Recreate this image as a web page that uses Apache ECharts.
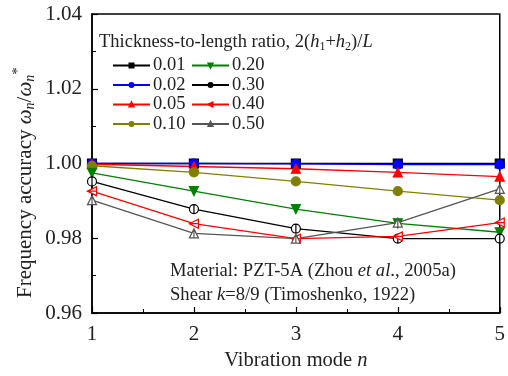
<!DOCTYPE html>
<html>
<head>
<meta charset="utf-8">
<script src="https://cdn.jsdelivr.net/npm/echarts@6/dist/echarts.min.js"></script>
<style>
  html, body { margin: 0; padding: 0; background: #fff; }
  #chart { width: 508px; height: 376px; }
</style>
</head>
<body>
<div id="chart"></div>
<script>
// vibration modes on the x axis
const modes = [1, 2, 3, 4, 5];
// thickness-to-length ratios
const ratios = ['0.01', '0.02', '0.05', '0.10', '0.20', '0.30', '0.40', '0.50'];
// frequency accuracy for each ratio
const acc001 = [1.0000, 1.0000, 1.0000, 1.0000, 1.0000];
const acc002 = [1.0000, 1.0000, 0.9999, 0.9997, 0.9997];
const acc005 = [0.9998, 0.9992, 0.9986, 0.9976, 0.9965];
const acc010 = [0.9994, 0.9976, 0.9952, 0.9926, 0.9902];
const acc020 = [0.9975, 0.9926, 0.9878, 0.9840, 0.9816];
const acc030 = [0.9952, 0.9878, 0.9826, 0.9799, 0.9799];
const acc040 = [0.9926, 0.9839, 0.9799, 0.9805, 0.9842];
const acc050 = [0.9902, 0.9813, 0.9799, 0.9842, 0.9932];
const yTicks = [0.96, 0.98, 1.00, 1.02, 1.04];

const FONT = '"Liberation Serif", "DejaVu Serif", serif';
const allData = [acc001, acc002, acc005, acc010, acc020, acc030, acc040, acc050];

// marker styles per series
const styles = [
  { color: '#000000', symbol: 'rect', fill: '#000000' },
  { color: '#0000ff', symbol: 'circle', fill: '#0000ff' },
  { color: '#ff0000', symbol: 'triangle', fill: '#ff0000' },
  { color: '#808000', symbol: 'circle', fill: '#808000' },
  { color: '#008000', symbol: 'path://M0,0L10,0L5,9Z', fill: '#008000' },
  { color: '#000000', symbol: 'path://M5,0A5,5 0 1,1 5,10A5,5 0 1,1 5,0M5,0L5,10', fill: '#ffffff' },
  { color: '#ff0000', symbol: 'path://M0,5L9,0L9,10Z M0,5L9,5', fill: '#ffffff' },
  { color: '#555555', symbol: 'path://M5,0L10,9L0,9Z M5,0L5,9', fill: '#ffffff' }
];

const chart = echarts.init(document.getElementById('chart'));

const series = ratios.map((r, i) => ({
  name: r,
  type: 'line',
  data: modes.map((m, j) => [m, allData[i][j]]),
  symbol: styles[i].symbol,
  symbolSize: 9,
  showAllSymbol: true,
  lineStyle: { color: styles[i].color, width: 1.3 },
  itemStyle: { color: styles[i].fill, borderColor: styles[i].color, borderWidth: 1.2 },
  emphasis: { disabled: true }
}));

const legendText = { fontFamily: FONT, fontSize: 18.5, color: '#222', padding: [0, 0, 0, -2] };

const option = {
  animation: false,
  backgroundColor: '#fff',
  grid: {
    left: 92, right: 8, top: 14, bottom: 58,
    show: true, borderColor: '#000', borderWidth: 1.5
  },
  legend: [
    {
      data: ratios.slice(0, 4),
      orient: 'vertical',
      left: 107, top: 51,
      itemWidth: 37, itemHeight: 5, itemGap: 0.5,
      textStyle: legendText,
      selectedMode: false
    },
    {
      data: ratios.slice(4),
      orient: 'vertical',
      left: 186, top: 51,
      itemWidth: 37, itemHeight: 5, itemGap: 0.5,
      textStyle: legendText,
      selectedMode: false
    }
  ],
  xAxis: {
    type: 'value',
    min: 1, max: 5, interval: 1,
    name: 'Vibration mode {i|n}',
    nameLocation: 'middle',
    nameGap: 37,
    nameTextStyle: {
      fontFamily: FONT, fontSize: 20.5, color: '#222',
      rich: { i: { fontFamily: FONT, fontSize: 20.5, fontStyle: 'italic', color: '#222' } }
    },
    axisLine: { lineStyle: { color: '#000', width: 1.5 } },
    axisTick: { inside: true, length: 6, lineStyle: { color: '#000', width: 1.2 } },
    minorTick: { show: true, splitNumber: 2, length: 4, lineStyle: { color: '#000' } },
    axisLabel: { fontFamily: FONT, fontSize: 21, color: '#222', margin: 11 },
    splitLine: { show: false }
  },
  yAxis: {
    type: 'value',
    min: 0.96, max: 1.04, interval: 0.02,
    axisLine: { show: true, lineStyle: { color: '#000', width: 1.5 } },
    axisTick: { show: true, inside: true, length: 6, lineStyle: { color: '#000', width: 1.2 } },
    minorTick: { show: true, splitNumber: 2, length: 4, lineStyle: { color: '#000' } },
    axisLabel: {
      fontFamily: FONT, fontSize: 21, color: '#222', margin: 10,
      formatter: v => {
        const t = yTicks.find(k => Math.abs(k - v) < 1e-6);
        return t !== undefined ? t.toFixed(2) : '';
      }
    },
    splitLine: { show: false }
  },
  graphic: [
    {
      type: 'text',
      left: 99, top: 33,
      style: {
        text: 'Thickness-to-length ratio, 2({i|h}{s|1}+{i|h}{s|2})/{i|L}',
        fontFamily: FONT, fontSize: 18.5, fill: '#222',
        rich: {
          i: { fontFamily: FONT, fontSize: 18.5, fontStyle: 'italic', fill: '#222' },
          s: { fontFamily: FONT, fontSize: 12, fill: '#222', verticalAlign: 'bottom', padding: [8, 0, 0, 0] }
        }
      }
    },
    {
      type: 'text',
      left: 170, top: 262,
      style: {
        text: 'Material: PZT-5A (Zhou {i|et al}., 2005a)',
        fontFamily: FONT, fontSize: 18.6, fill: '#222',
        rich: { i: { fontFamily: FONT, fontSize: 18.6, fontStyle: 'italic', fill: '#222' } }
      }
    },
    {
      type: 'text',
      left: 170, top: 286,
      style: {
        text: 'Shear {i|k}=8/9 (Timoshenko, 1922)',
        fontFamily: FONT, fontSize: 18.6, fill: '#222',
        rich: { i: { fontFamily: FONT, fontSize: 18.6, fontStyle: 'italic', fill: '#222' } }
      }
    },
    {
      type: 'text',
      x: 11, y: 298,
      rotation: Math.PI / 2,
      style: {
        text: 'Frequency accuracy {i|ω}{s|n}/{i|ω}{s|n}{p|*}',
        fontFamily: FONT, fontSize: 21, fill: '#222',
        rich: {
          i: { fontFamily: FONT, fontSize: 21, fontStyle: 'italic', fill: '#222' },
          s: { fontFamily: FONT, fontSize: 14, fontStyle: 'italic', fill: '#222', padding: [10, 0, 0, 0] },
          p: { fontFamily: FONT, fontSize: 15, fill: '#222', padding: [0, 0, 13, 0] }
        }
      }
    }
  ],
  series: series
};

chart.setOption(option);
</script>
</body>
</html>
